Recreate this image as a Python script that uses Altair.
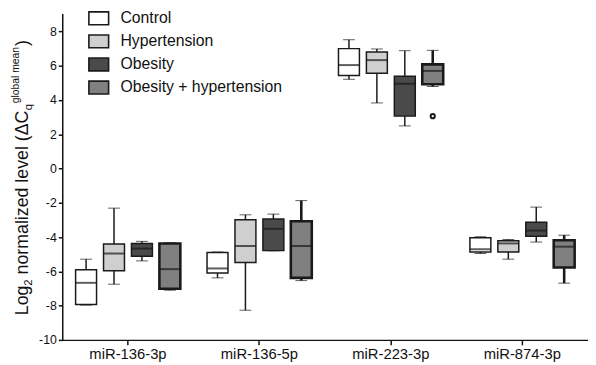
import altair as alt
import pandas as pd

FONT = "Liberation Sans"

mirnas = ["miR-136-3p", "miR-136-5p", "miR-223-3p", "miR-874-3p"]
groups = ["Control", "Hypertension", "Obesity", "Obesity + hypertension"]
fills = ["#ffffff", "#cfcfcf", "#4a4a4a", "#808080"]
ytick_values = [-10, -8, -6, -4, -2, 0, 2, 4, 6, 8]

ctrl_min = [-7.97, -6.38, 5.21, -4.96]
ctrl_q1 = [-7.94, -6.10, 5.43, -4.87]
ctrl_med = [-6.67, -5.83, 6.04, -4.71]
ctrl_q3 = [-5.90, -4.90, 7.00, -4.04]
ctrl_max = [-5.29, -4.87, 7.52, -3.98]

hyp_min = [-6.75, -8.27, 3.83, -5.29]
hyp_q1 = [-5.96, -5.48, 5.56, -4.87]
hyp_med = [-4.96, -4.52, 6.33, -4.37]
hyp_q3 = [-4.41, -2.99, 6.81, -4.21]
hyp_max = [-2.31, -2.70, 6.98, -4.14]

ob_min = [-5.39, -4.80, 2.49, -4.29]
ob_q1 = [-5.12, -4.79, 3.06, -3.95]
ob_med = [-4.67, -3.52, 4.95, -3.62]
ob_q3 = [-4.37, -2.95, 5.39, -3.14]
ob_max = [-4.25, -2.66, 6.88, -2.25]

obh_min = [-7.10, -6.54, 4.79, -6.69]
obh_q1 = [-7.02, -6.38, 4.92, -5.77]
obh_med = [-5.87, -4.52, 5.70, -4.56]
obh_q3 = [-4.37, -3.08, 6.08, -4.18]
obh_max = [-4.33, -1.87, 6.90, -3.89]

outlier_mirna = ["miR-223-3p"]
outlier_group = ["Obesity + hypertension"]
outlier_value = [3.06]

stroke_w = [1.5, 1.5, 1.5, 2.6]

stats = [
    (ctrl_min, ctrl_q1, ctrl_med, ctrl_q3, ctrl_max),
    (hyp_min, hyp_q1, hyp_med, hyp_q3, hyp_max),
    (ob_min, ob_q1, ob_med, ob_q3, ob_max),
    (obh_min, obh_q1, obh_med, obh_q3, obh_max),
]

rows = []
for gi, g in enumerate(groups):
    mn, q1, md, q3, mx = stats[gi]
    for mi, m in enumerate(mirnas):
        rows.append(dict(mirna=m, group=g, lo=mn[mi], q1=q1[mi], med=md[mi],
                         q3=q3[mi], hi=mx[mi], sw=stroke_w[gi]))
df = pd.DataFrame(rows)
out_df = pd.DataFrame(dict(mirna=outlier_mirna, group=outlier_group, v=outlier_value))

xenc = alt.X("mirna:N", sort=mirnas,
             scale=alt.Scale(paddingInner=0.15, paddingOuter=0.075),
             axis=alt.Axis(title=None, labelAngle=0, labelFontSize=15, labelFont=FONT,
                           labelColor="#111", domainColor="#111", domainWidth=1.5,
                           tickColor="#111", tickWidth=1.5, tickSize=5, labelPadding=2))
xoff = alt.XOffset("group:N", sort=groups,
                   scale=alt.Scale(domain=groups, paddingInner=0.25, paddingOuter=0.125))
ydom = alt.Scale(domain=[-10, 9], nice=False, zero=False)


def yaxis():
    return alt.Axis(title=None, values=ytick_values, labelFontSize=12.5,
                    labelFont=FONT, labelColor="#111", domainColor="#111",
                    domainWidth=1.5, tickColor="#111", tickWidth=1.5, tickSize=4,
                    labelPadding=2, grid=False, labelOverlap=False, labelFlush=False,
                    labelExpr="datum.value < 0 ? '-' + abs(datum.value) : '' + datum.value")


def Y(field):
    return alt.Y(field, scale=ydom, axis=yaxis())


base = alt.Chart(df)

whisk = base.mark_rule(color="#1a1a1a").encode(
    x=xenc, xOffset=xoff, y=Y("lo:Q"), y2="hi:Q",
    strokeWidth=alt.StrokeWidth("sw:Q", scale=None))

cap_lo = base.mark_tick(color="#1a1a1a", size=12).encode(
    x=xenc, xOffset=xoff, y=Y("lo:Q"),
    strokeWidth=alt.StrokeWidth("sw:Q", scale=None))
cap_hi = base.mark_tick(color="#1a1a1a", size=12).encode(
    x=xenc, xOffset=xoff, y=Y("hi:Q"),
    strokeWidth=alt.StrokeWidth("sw:Q", scale=None))

boxes = base.mark_bar(stroke="#1a1a1a").encode(
    x=xenc, xOffset=xoff, y=Y("q1:Q"), y2="q3:Q",
    fill=alt.Fill("group:N", sort=groups,
                  scale=alt.Scale(domain=groups, range=fills),
                  legend=alt.Legend(title=None, orient="none", legendX=26, legendY=-7,
                                    symbolType="M-1,-0.65H1V0.65H-1Z", symbolSize=400,
                                    symbolStrokeColor="#1a1a1a", symbolStrokeWidth=1.6,
                                    labelFontSize=16, labelFont=FONT, labelColor="#111",
                                    labelOffset=11, rowPadding=2.4, padding=0,
                                    labelLimit=400)),
    strokeWidth=alt.StrokeWidth("sw:Q", scale=None))

meds = base.mark_tick(color="#1a1a1a", size=21, thickness=2).encode(
    x=xenc, xOffset=xoff, y=Y("med:Q"))

outl = alt.Chart(out_df).mark_point(filled=False, color="#1a1a1a", size=18,
                                    strokeWidth=2, opacity=1).encode(
    x=xenc, xOffset=xoff, y=Y("v:Q"))

# y-axis title built from pieces (subscripts / superscript)
title_pieces = [
    ("Log", 18, 0, 0),
    ("2", 11.5, 30.0, 4.5),
    ("normalized level (\u0394C", 18, 41.4, 0),
    ("q", 11.5, 207.8, 4.5),
    ("global mean", 10.5, 214.8, -8.5),
    (")", 18, 273.0, 0),
]
tlayers = []
for txt, fs, dxv, dyv in title_pieces:
    tlayers.append(
        alt.Chart(pd.DataFrame({"t": [txt]})).mark_text(
            angle=270, align="left", baseline="alphabetic", fontSize=fs, font=FONT,
            color="#111", dx=dxv, dy=dyv).encode(
            x=alt.value(-35), y=alt.value(305), text="t:N"))

chart = alt.layer(whisk, cap_lo, cap_hi, boxes, meds, outl, *tlayers).properties(
    width=533, height=330,
    autosize=alt.AutoSizeParams(type="none"),
    padding={"left": 55, "top": 4, "right": 0, "bottom": 22},
).configure_view(stroke=None).configure_axisY(domainCap="square")

chart.save("out.html", embed_options={"renderer": "svg", "actions": False})
